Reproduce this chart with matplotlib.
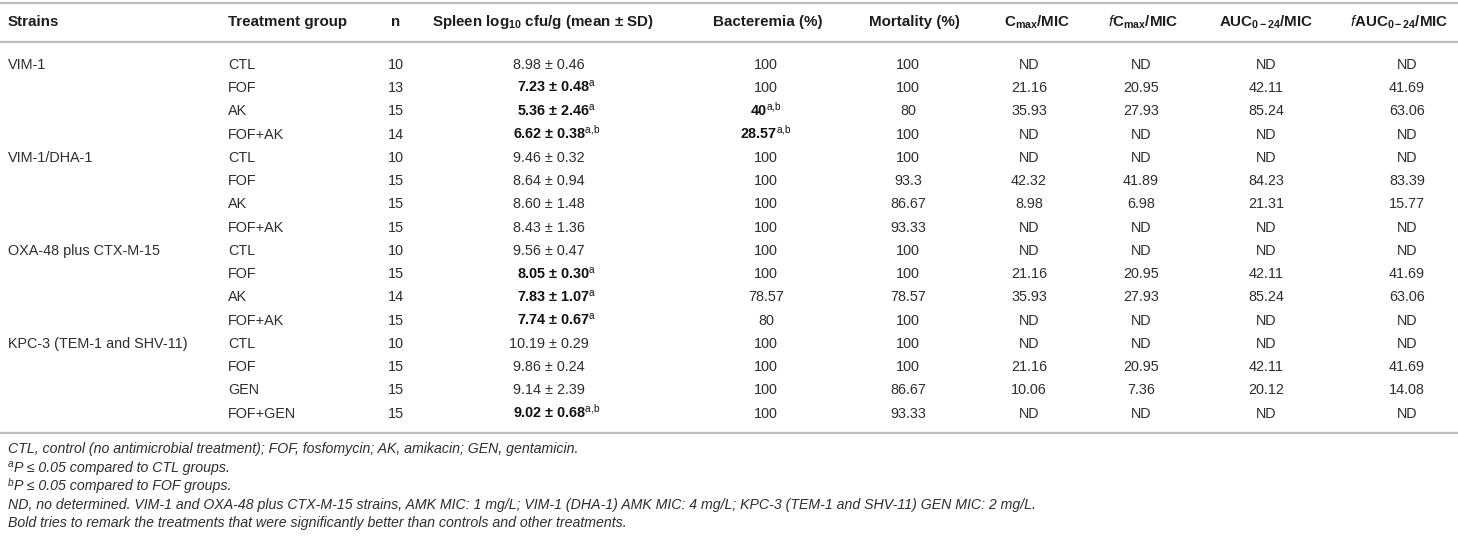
import matplotlib
matplotlib.use("Agg")
import matplotlib.pyplot as plt

plt.rcParams['font.family'] = ['Liberation Sans', 'DejaVu Sans']
plt.rcParams['mathtext.fontset'] = 'custom'
plt.rcParams['mathtext.rm'] = 'Liberation Sans'
plt.rcParams['mathtext.it'] = 'Liberation Sans:italic'
plt.rcParams['mathtext.bf'] = 'Liberation Sans:bold'

# ---------------- data ----------------
headers = ["Strains", "Treatment group", "n",
           r"Spleen log$_{\mathbf{10}}$ cfu/g (mean ± SD)",
           "Bacteremia (%)", "Mortality (%)",
           r"C$_{\mathbf{max}}$/MIC", r"$\mathit{f}$C$_{\mathbf{max}}$/MIC",
           r"AUC$_{\mathbf{0-24}}$/MIC", r"$\mathit{f}$AUC$_{\mathbf{0-24}}$/MIC"]

strains = ["VIM-1", "VIM-1/DHA-1", "OXA-48 plus CTX-M-15", "KPC-3 (TEM-1 and SHV-11)"]
groups = [["CTL", "FOF", "AK", "FOF+AK"],
          ["CTL", "FOF", "AK", "FOF+AK"],
          ["CTL", "FOF", "AK", "FOF+AK"],
          ["CTL", "FOF", "GEN", "FOF+GEN"]]
n_values = [10, 13, 15, 14, 10, 15, 15, 15, 10, 15, 14, 15, 10, 15, 15, 15]
spleen_mean = ["8.98", "7.23", "5.36", "6.62", "9.46", "8.64", "8.60", "8.43",
               "9.56", "8.05", "7.83", "7.74", "10.19", "9.86", "9.14", "9.02"]
spleen_sd = ["0.46", "0.48", "2.46", "0.38", "0.32", "0.94", "1.48", "1.36",
             "0.47", "0.30", "1.07", "0.67", "0.29", "0.24", "2.39", "0.68"]
spleen_sup = ["", "a", "a", "a{,}b", "", "", "", "",
              "", "a", "a", "a", "", "", "", "a{,}b"]
bacteremia = ["100", "100", "40", "28.57", "100", "100", "100", "100",
              "100", "100", "78.57", "80", "100", "100", "100", "100"]
bacteremia_sup = ["", "", "a{,}b", "a{,}b", "", "", "", "",
                  "", "", "", "", "", "", "", ""]
mortality = ["100", "100", "80", "100", "100", "93.3", "86.67", "93.33",
             "100", "100", "78.57", "100", "100", "100", "86.67", "93.33"]
cmax_mic = ["ND", "21.16", "35.93", "ND", "ND", "42.32", "8.98", "ND",
            "ND", "21.16", "35.93", "ND", "ND", "21.16", "10.06", "ND"]
fcmax_mic = ["ND", "20.95", "27.93", "ND", "ND", "41.89", "6.98", "ND",
             "ND", "20.95", "27.93", "ND", "ND", "20.95", "7.36", "ND"]
auc_mic = ["ND", "42.11", "85.24", "ND", "ND", "84.23", "21.31", "ND",
           "ND", "42.11", "85.24", "ND", "ND", "42.11", "20.12", "ND"]
fauc_mic = ["ND", "41.69", "63.06", "ND", "ND", "83.39", "15.77", "ND",
            "ND", "41.69", "63.06", "ND", "ND", "41.69", "14.08", "ND"]

footnote_marks = ["", "a", "b", "", ""]
footnotes = [
    "CTL, control (no antimicrobial treatment); FOF, fosfomycin; AK, amikacin; GEN, gentamicin.",
    "P ≤ 0.05 compared to CTL groups.",
    "P ≤ 0.05 compared to FOF groups.",
    "ND, no determined. VIM-1 and OXA-48 plus CTX-M-15 strains, AMK MIC: 1 mg/L; VIM-1 (DHA-1) AMK MIC: 4 mg/L; "
    "KPC-3 (TEM-1 and SHV-11) GEN MIC: 2 mg/L.",
    "Bold tries to remark the treatments that were significantly better than controls and other treatments.",
]

# ---------------- layout ----------------
W, H = 1458, 540
fig = plt.figure(figsize=(W / 100, H / 100), dpi=100)
ax = fig.add_axes([0, 0, 1, 1])
ax.set_xlim(0, W)
ax.set_ylim(H, 0)
ax.axis("off")

FS = 10.4
FS_HDR = 10.9
FS_FN = 10.2
TXT = "#2e2e2e"
LINE = "#bdbdbd"
BL = 5.2  # offset from visual centre to baseline (pixels)

col_x = [8, 228, 396, 549, 766, 908, 1029, 1141, 1266, 1407]
hdr_x = [8, 228, 396, 543, 768, 914, 1037, 1143, 1266, 1399]
hdr_ha = ["left", "left", "center", "center", "center", "center", "center", "center", "center", "center"]

y_top, y_hdr, y_mid = 3, 21, 42
y_row0, dy = 63.5, 23.27
y_bot = 433
y_fn0, dfn = 448, 18.5

for y in (y_top, y_mid, y_bot):
    ax.plot([0, W], [y, y], color=LINE, lw=1.6, solid_capstyle="butt")

for x, ha, h in zip(hdr_x, hdr_ha, headers):
    ax.text(x, y_hdr + BL, h, ha=ha, va="baseline", fontsize=FS_HDR, fontweight="bold", color="#1e1e1e")

r = 0
for si, strain in enumerate(strains):
    for gi, grp in enumerate(groups[si]):
        y = y_row0 + r * dy + BL
        if gi == 0:
            ax.text(col_x[0], y, strain, ha="left", va="baseline", fontsize=FS, color=TXT)
        ax.text(col_x[1], y, grp, ha="left", va="baseline", fontsize=FS, color=TXT)
        ax.text(col_x[2], y, str(n_values[r]), ha="center", va="baseline", fontsize=FS, color=TXT)

        sp = f"{spleen_mean[r]} ± {spleen_sd[r]}"
        if spleen_sup[r]:
            sp = sp + r"$^{\mathrm{" + spleen_sup[r] + "}}$"
            ax.text(col_x[3] + 8, y, sp, ha="center", va="baseline", fontsize=FS,
                    fontweight="bold", color="#111111")
        else:
            ax.text(col_x[3], y, sp, ha="center", va="baseline", fontsize=FS, color=TXT)

        bc = bacteremia[r]
        if bacteremia_sup[r]:
            bc = bc + r"$^{\mathrm{" + bacteremia_sup[r] + "}}$"
            ax.text(col_x[4], y, bc, ha="center", va="baseline", fontsize=FS,
                    fontweight="bold", color="#111111")
        else:
            ax.text(col_x[4], y, bc, ha="center", va="baseline", fontsize=FS, color=TXT)

        for ci, vals in zip(range(5, 10), [mortality, cmax_mic, fcmax_mic, auc_mic, fauc_mic]):
            ax.text(col_x[ci], y, vals[r], ha="center", va="baseline", fontsize=FS, color=TXT)
        r += 1

for i, (mark, fn) in enumerate(zip(footnote_marks, footnotes)):
    yb = y_fn0 + i * dfn + BL
    x0 = 8
    if mark:
        ax.text(x0, yb - 4.5, mark, ha="left", va="baseline", fontsize=7.2,
                fontstyle="italic", color=TXT)
        x0 = 14.5
    ax.text(x0, yb, fn, ha="left", va="baseline", fontsize=FS_FN,
            fontstyle="italic", color=TXT)

fig.savefig("out.png", dpi=100)
